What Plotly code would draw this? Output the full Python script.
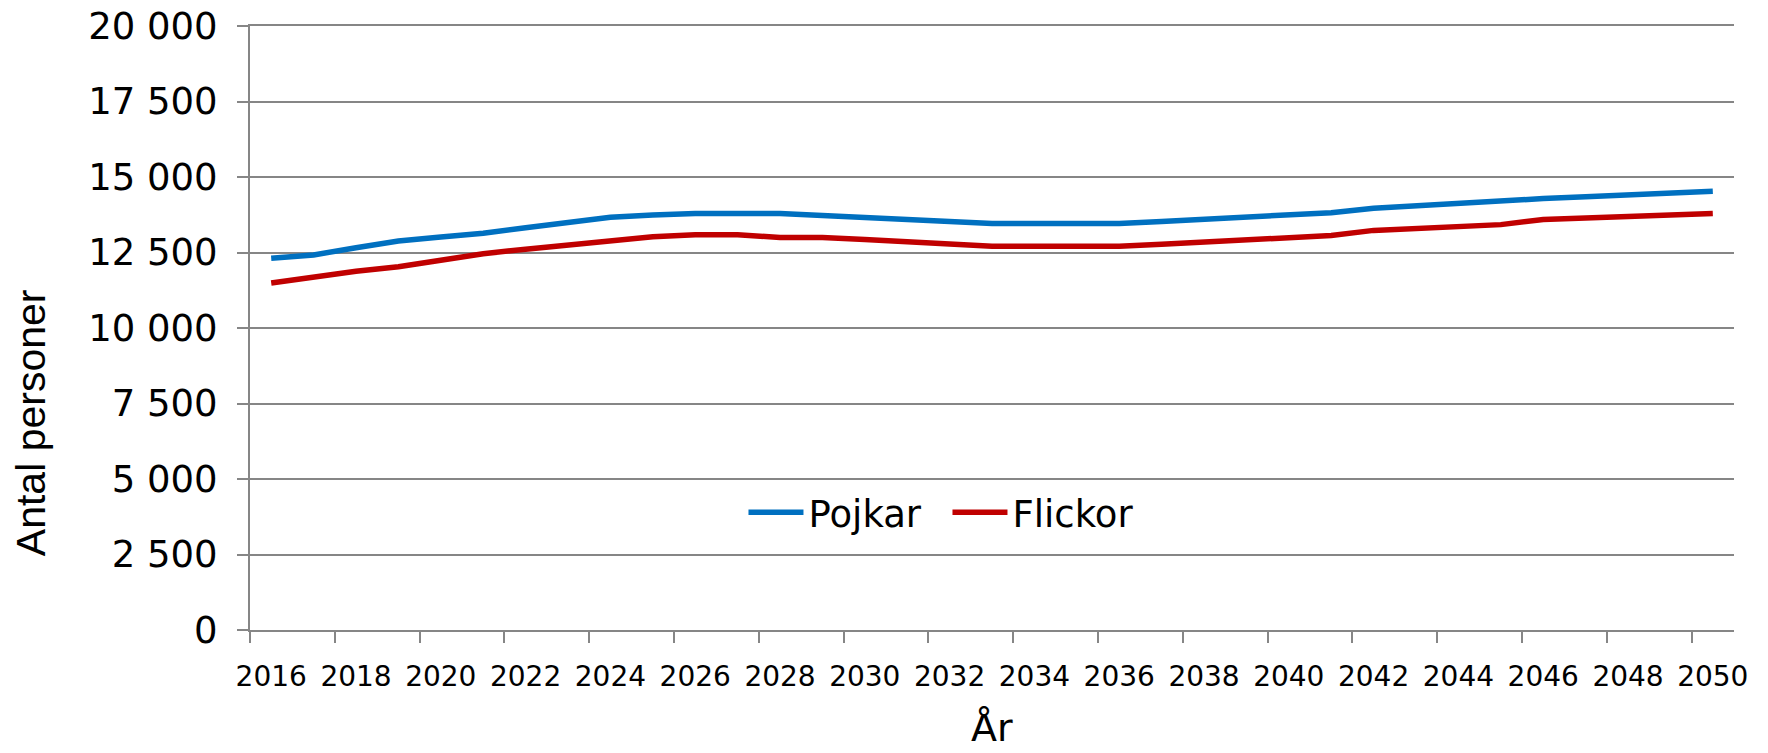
import plotly.graph_objects as go

years = list(range(2016, 2051))
pojkar = [12309, 12420, 12660, 12880, 13010, 13140, 13320, 13480, 13670, 13740,
          13790, 13790, 13790, 13727, 13660, 13592, 13525, 13457, 13457, 13457,
          13457, 13529, 13601, 13674, 13746, 13818, 13964, 14043, 14167, 14227,
          14287, 14347, 14407, 14467, 14527]
flickor = [11490, 11690, 11880, 12030, 12240, 12460, 12610, 12760, 12910, 13020,
           13086, 13086, 13000, 13000, 12931, 12855, 12779, 12703, 12703, 12703,
           12703, 12775, 12847, 12919, 12991, 13063, 13232, 13296, 13359, 13423,
           13592, 13643, 13694, 13744, 13795]
tick_years = list(range(2016, 2051, 2))
y_ticks = list(range(0, 20001, 2500))

GRID = "#868686"
fig = go.Figure()
fig.add_trace(go.Scatter(x=years, y=pojkar, mode="lines", name="Pojkar",
                         line=dict(color="#0070C0", width=5.5)))
fig.add_trace(go.Scatter(x=years, y=flickor, mode="lines", name="Flickor",
                         line=dict(color="#C00000", width=5.5)))

fig.update_layout(
    width=1768, height=753,
    margin=dict(l=242, r=42, t=18, b=131),
    paper_bgcolor="white", plot_bgcolor="white",
    separators=", ",
    font=dict(family="DejaVu Sans", color="black"),
    showlegend=True,
    legend=dict(orientation="h", x=0.47, y=0.194, xanchor="center", yanchor="middle",
                font=dict(size=37, family="DejaVu Sans"), bgcolor="rgba(0,0,0,0)",
                itemwidth=55, entrywidth=134, tracegroupgap=0),
    xaxis=dict(range=[2015.5, 2050.5], tickmode="array", tickvals=tick_years,
               ticktext=[str(y) for y in tick_years], ticks="", showgrid=False,
               showline=True, linecolor=GRID, linewidth=2, zeroline=False,
               mirror=True, automargin=False,
               tickfont=dict(size=28, family="DejaVu Sans"), ticklabelstandoff=20,
               minor=dict(tickmode="linear", tick0=2015.5, dtick=2, ticks="outside",
                          ticklen=11, tickwidth=2, tickcolor=GRID, showgrid=False)),
    yaxis=dict(range=[0, 20000], tickmode="array", tickvals=y_ticks, tickformat=",d",
               ticks="outside", ticklen=11, tickwidth=2, tickcolor=GRID,
               showgrid=True, gridcolor=GRID, gridwidth=2, zeroline=False,
               showline=True, linecolor=GRID, linewidth=2, automargin=False,
               ticklabeloverflow="allow",
               tickfont=dict(size=37, family="DejaVu Sans"), ticklabelstandoff=12),
    annotations=[
        dict(text="Antal personer", textangle=-90, xref="paper", yref="paper",
             x=-0.148, y=0.343, xanchor="center", yanchor="middle", showarrow=False,
             font=dict(size=41, family="Liberation Sans", color="black")),
        dict(text="År", xref="paper", yref="paper", x=0.5, y=-0.163,
             xanchor="center", yanchor="middle", showarrow=False,
             font=dict(size=38, family="DejaVu Sans", color="black")),
    ],
)
fig.write_html("out.html")
